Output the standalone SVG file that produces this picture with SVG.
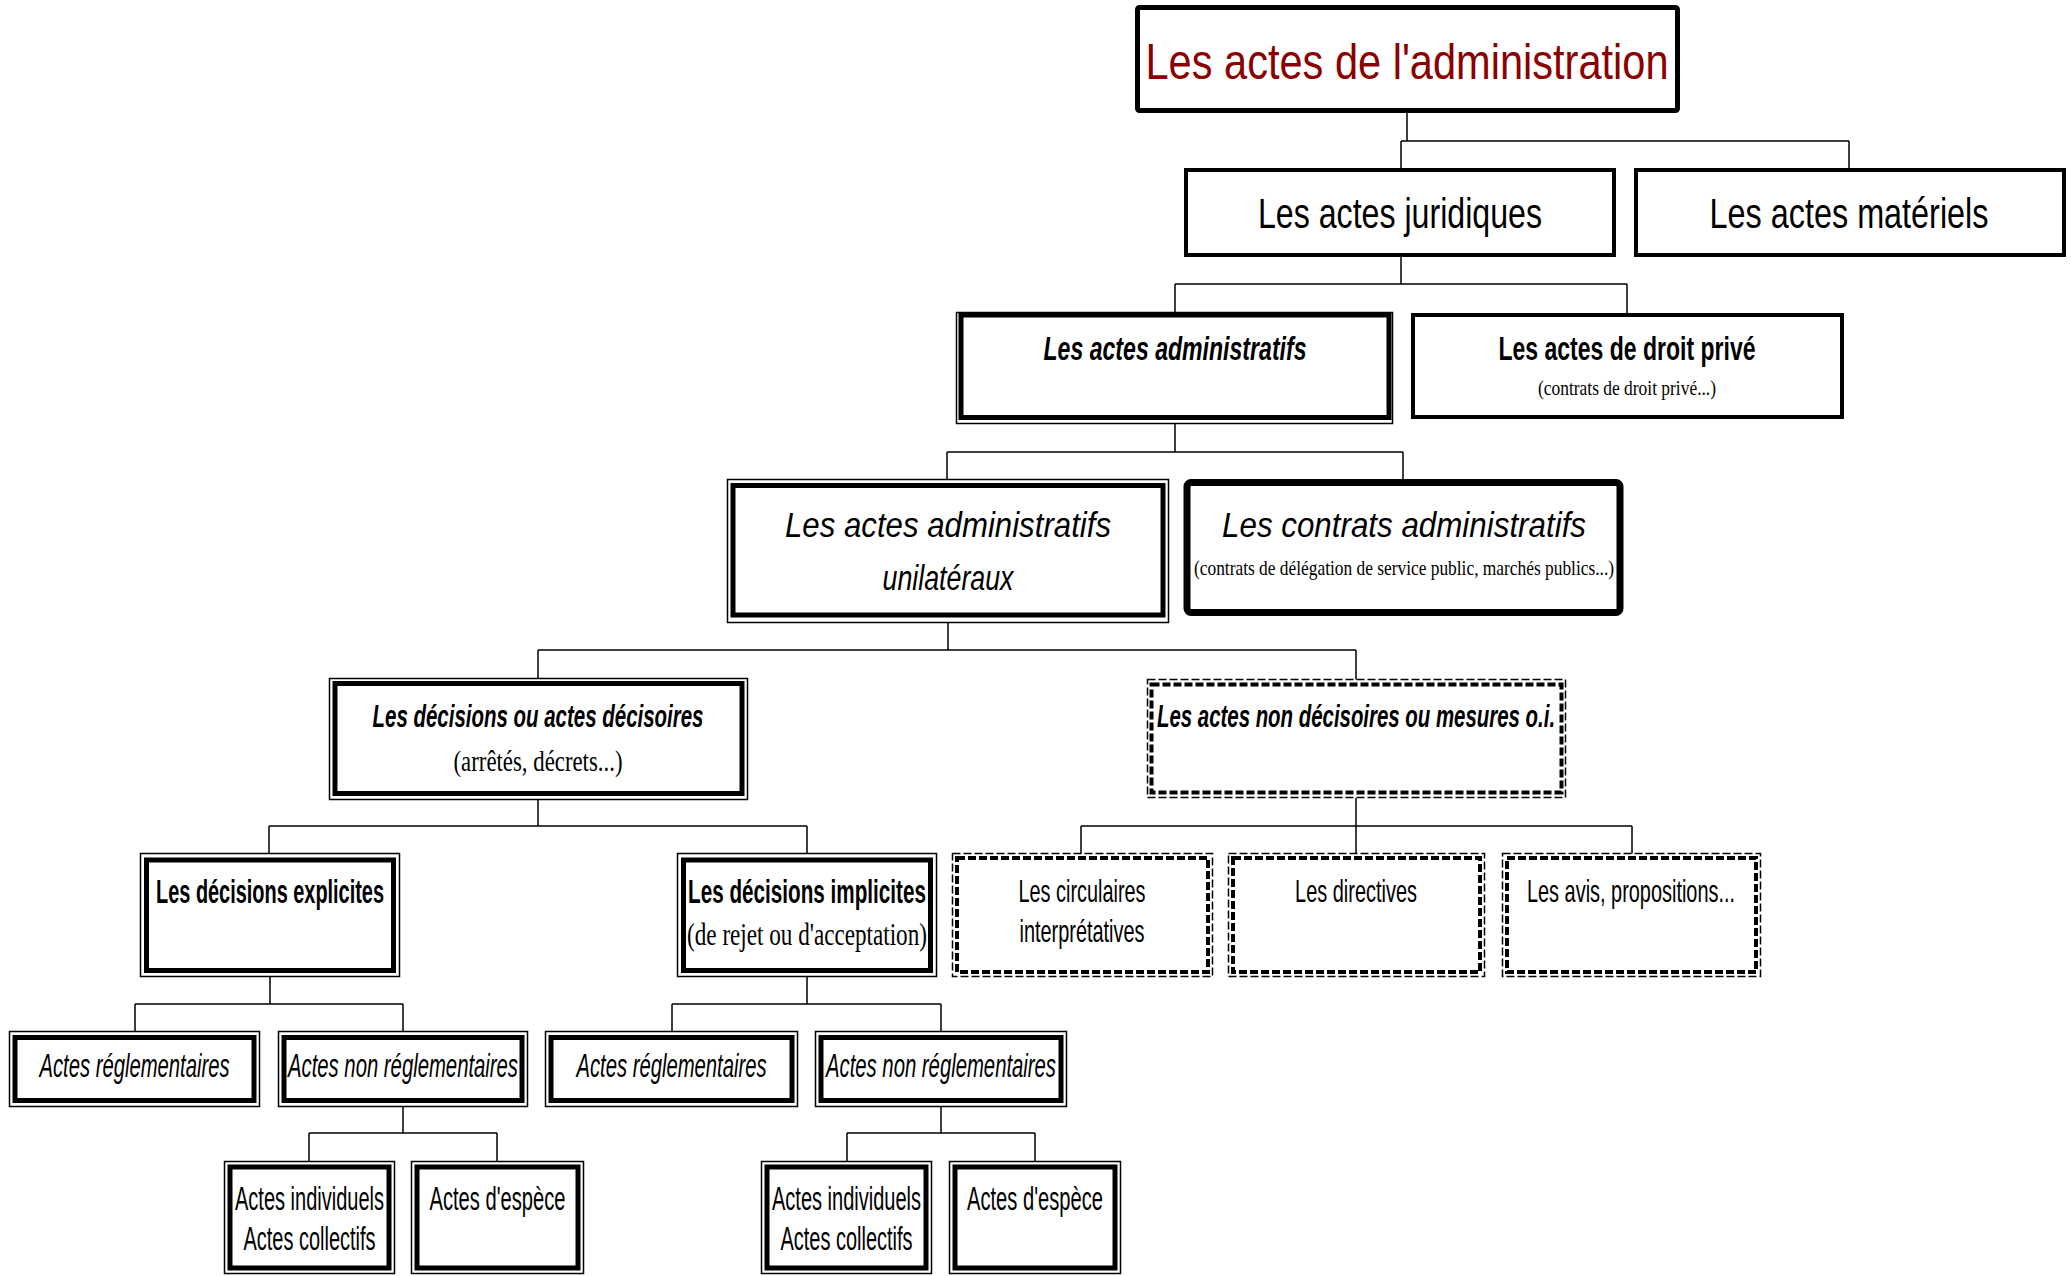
<svg xmlns="http://www.w3.org/2000/svg" width="2071" height="1276" viewBox="0 0 2071 1276">
<style>
.bg{fill:#fff}
.conn{fill:none;stroke:#000;stroke-width:1.5}
.b5{fill:#fff;stroke:#000;stroke-width:5}
.b4{fill:#fff;stroke:#000;stroke-width:4}
.b7{fill:#fff;stroke:#000;stroke-width:7}
.outer{fill:#fff;stroke:#000;stroke-width:1.5}
.inner{fill:none;stroke:#000;stroke-width:5}
.douter{fill:#fff;stroke:#000;stroke-width:1.5;stroke-dasharray:8 3}
.dinner{fill:none;stroke:#000;stroke-width:4;stroke-dasharray:8 3}
text{font-family:"Liberation Sans",Arial,sans-serif;fill:#000;text-anchor:middle}
.serif{font-family:"Liberation Serif","Times New Roman",serif}
.bi{font-weight:bold;font-style:italic}
.b{font-weight:bold}
.i{font-style:italic}
.red{fill:#8b0000}
</style>
<rect class="bg" x="0" y="0" width="2071" height="1276"/>
<g id="connectors">
<path class="conn" d="M1407,110 V141 M1401,141 H1849 M1401,141 V170 M1849,141 V170"/>
<path class="conn" d="M1401,255 V284 M1175,284 H1627 M1175,284 V315 M1627,284 V315"/>
<path class="conn" d="M1175,424 V452 M947,452 H1403 M947,452 V480 M1403,452 V483"/>
<path class="conn" d="M948,622 V650 M538,650 H1356 M538,650 V679 M1356,650 V680"/>
<path class="conn" d="M538,800 V826 M269,826 H807 M269,826 V854 M807,826 V854"/>
<path class="conn" d="M1356,798 V826 M1081,826 H1632 M1081,826 V854 M1356,826 V854 M1632,826 V854"/>
<path class="conn" d="M270,977 V1004 M135,1004 H403 M135,1004 V1032 M403,1004 V1032"/>
<path class="conn" d="M807,977 V1004 M672,1004 H941 M672,1004 V1032 M941,1004 V1032"/>
<path class="conn" d="M403,1107 V1133 M309,1133 H497 M309,1133 V1162 M497,1133 V1162"/>
<path class="conn" d="M941,1107 V1133 M847,1133 H1035 M847,1133 V1162 M1035,1133 V1162"/>
</g>
<g id="n-administration">
<rect class="b5" x="1137.5" y="7.5" width="540" height="103" rx="2"/>
<text class="red" transform="translate(1407,79) scale(0.8315,1)" font-size="50" textLength="629" lengthAdjust="spacingAndGlyphs">Les actes de l'administration</text>
</g>
<g id="n-juridiques">
<rect class="b4" x="1186" y="170" width="428" height="85"/>
<text transform="translate(1400,228) scale(0.7655,1)" font-size="42" textLength="371" lengthAdjust="spacingAndGlyphs">Les actes juridiques</text>
</g>
<g id="n-materiels">
<rect class="b4" x="1636" y="170" width="428" height="85"/>
<text transform="translate(1849,228) scale(0.7707,1)" font-size="42" textLength="362" lengthAdjust="spacingAndGlyphs">Les actes matériels</text>
</g>
<g id="n-administratifs">
<rect class="outer" x="956.5" y="312.5" width="436" height="111"/>
<rect class="inner" x="961" y="315" width="428" height="102.5"/>
<text class="bi" transform="translate(1175,360) scale(0.6995,1)" font-size="33" textLength="376" lengthAdjust="spacingAndGlyphs">Les actes administratifs</text>
</g>
<g id="n-droit-prive">
<rect class="b4" x="1413" y="315" width="429" height="102"/>
<text class="b" transform="translate(1627,360) scale(0.6965,1)" font-size="33" textLength="369" lengthAdjust="spacingAndGlyphs">Les actes de droit privé</text>
<text class="serif" transform="translate(1627,395) scale(0.828,1)" font-size="21" textLength="215" lengthAdjust="spacingAndGlyphs">(contrats de droit privé...)</text>
</g>
<g id="n-unilateraux">
<rect class="outer" x="727.5" y="479.5" width="441" height="143"/>
<rect class="inner" x="733" y="485.5" width="430" height="129.5"/>
<text class="i" transform="translate(948,537) scale(0.8907,1)" font-size="35" textLength="366" lengthAdjust="spacingAndGlyphs">Les actes administratifs</text>
<text class="i" transform="translate(948,590) scale(0.766,1)" font-size="35" textLength="171" lengthAdjust="spacingAndGlyphs">unilatéraux</text>
</g>
<g id="n-contrats">
<rect class="b7" x="1187" y="482.5" width="433" height="130" rx="4"/>
<text class="i" transform="translate(1404,537) scale(0.8943,1)" font-size="35" textLength="407" lengthAdjust="spacingAndGlyphs">Les contrats administratifs</text>
<text class="serif" transform="translate(1404,575) scale(0.7895,1)" font-size="22" textLength="532" lengthAdjust="spacingAndGlyphs">(contrats de délégation de service public, marchés publics...)</text>
</g>
<g id="n-decisions">
<rect class="outer" x="329.5" y="678.5" width="418" height="121"/>
<rect class="inner" x="335" y="683.5" width="407" height="110"/>
<text class="bi" transform="translate(538,727) scale(0.639,1)" font-size="32" textLength="518" lengthAdjust="spacingAndGlyphs">Les décisions ou actes décisoires</text>
<text class="serif" transform="translate(538,771) scale(0.761,1)" font-size="30" textLength="222" lengthAdjust="spacingAndGlyphs">(arrêtés, décrets...)</text>
</g>
<g id="n-non-decisoires">
<rect class="douter" x="1147.5" y="679.5" width="418" height="118"/>
<rect class="dinner" x="1151.5" y="684.5" width="410" height="108"/>
<text class="bi" transform="translate(1356,727) scale(0.638,1)" font-size="32" textLength="624" lengthAdjust="spacingAndGlyphs">Les actes non décisoires ou mesures o.i.</text>
</g>
<g id="n-explicites">
<rect class="outer" x="140.5" y="853.5" width="259" height="123"/>
<rect class="inner" x="146.5" y="860" width="247" height="110.5"/>
<text class="b" transform="translate(270,903) scale(0.603,1)" font-size="33" textLength="378" lengthAdjust="spacingAndGlyphs">Les décisions explicites</text>
</g>
<g id="n-implicites">
<rect class="outer" x="677.5" y="853.5" width="259" height="123"/>
<rect class="inner" x="683.5" y="860" width="247" height="110.5"/>
<text class="b" transform="translate(807,903) scale(0.626,1)" font-size="33" textLength="380" lengthAdjust="spacingAndGlyphs">Les décisions implicites</text>
<text class="serif" transform="translate(807,945) scale(0.745,1)" font-size="31" textLength="322" lengthAdjust="spacingAndGlyphs">(de rejet ou d'acceptation)</text>
</g>
<g id="n-circulaires">
<rect class="douter" x="952.5" y="853.5" width="260" height="123"/>
<rect class="dinner" x="957" y="858" width="251" height="114"/>
<text transform="translate(1082,902) scale(0.6225,1)" font-size="32" textLength="204" lengthAdjust="spacingAndGlyphs">Les circulaires</text>
<text transform="translate(1082,942) scale(0.622,1)" font-size="32" textLength="201" lengthAdjust="spacingAndGlyphs">interprétatives</text>
</g>
<g id="n-directives">
<rect class="douter" x="1228.5" y="853.5" width="256" height="123"/>
<rect class="dinner" x="1233" y="858" width="247" height="114"/>
<text transform="translate(1356,902) scale(0.622,1)" font-size="32" textLength="196" lengthAdjust="spacingAndGlyphs">Les directives</text>
</g>
<g id="n-avis">
<rect class="douter" x="1502.5" y="853.5" width="258" height="123"/>
<rect class="dinner" x="1507" y="858" width="249" height="114"/>
<text transform="translate(1631,902) scale(0.623,1)" font-size="32" textLength="334" lengthAdjust="spacingAndGlyphs">Les avis, propositions...</text>
</g>
<g id="n-reg-expl">
<rect class="outer" x="9.5" y="1031.5" width="250" height="75"/>
<rect class="inner" x="15" y="1037.5" width="239" height="63"/>
<text class="i" transform="translate(134.5,1077) scale(0.615,1)" font-size="33" textLength="309" lengthAdjust="spacingAndGlyphs">Actes réglementaires</text>
</g>
<g id="n-nonreg-expl">
<rect class="outer" x="278.5" y="1031.5" width="249" height="75"/>
<rect class="inner" x="284" y="1037.5" width="238" height="63"/>
<text class="i" transform="translate(403,1077) scale(0.615,1)" font-size="33" textLength="374" lengthAdjust="spacingAndGlyphs">Actes non réglementaires</text>
</g>
<g id="n-reg-impl">
<rect class="outer" x="545.5" y="1031.5" width="252" height="75"/>
<rect class="inner" x="551" y="1037.5" width="241" height="63"/>
<text class="i" transform="translate(671.5,1077) scale(0.615,1)" font-size="33" textLength="309" lengthAdjust="spacingAndGlyphs">Actes réglementaires</text>
</g>
<g id="n-nonreg-impl">
<rect class="outer" x="815.5" y="1031.5" width="251" height="75"/>
<rect class="inner" x="821" y="1037.5" width="240" height="63"/>
<text class="i" transform="translate(941,1077) scale(0.615,1)" font-size="33" textLength="374" lengthAdjust="spacingAndGlyphs">Actes non réglementaires</text>
</g>
<g id="n-indiv-expl">
<rect class="outer" x="224.5" y="1161.5" width="170" height="112"/>
<rect class="inner" x="230" y="1167" width="159" height="101"/>
<text transform="translate(309.5,1210) scale(0.606,1)" font-size="33" textLength="246" lengthAdjust="spacingAndGlyphs">Actes individuels</text>
<text transform="translate(309.5,1250) scale(0.6055,1)" font-size="33" textLength="218" lengthAdjust="spacingAndGlyphs">Actes collectifs</text>
</g>
<g id="n-espece-expl">
<rect class="outer" x="411.5" y="1161.5" width="172" height="112"/>
<rect class="inner" x="417" y="1167" width="161" height="101"/>
<text transform="translate(497.5,1210) scale(0.61,1)" font-size="33" textLength="223" lengthAdjust="spacingAndGlyphs">Actes d'espèce</text>
</g>
<g id="n-indiv-impl">
<rect class="outer" x="761.5" y="1161.5" width="170" height="112"/>
<rect class="inner" x="767" y="1167" width="159" height="101"/>
<text transform="translate(846.5,1210) scale(0.606,1)" font-size="33" textLength="246" lengthAdjust="spacingAndGlyphs">Actes individuels</text>
<text transform="translate(846.5,1250) scale(0.6055,1)" font-size="33" textLength="218" lengthAdjust="spacingAndGlyphs">Actes collectifs</text>
</g>
<g id="n-espece-impl">
<rect class="outer" x="949.5" y="1161.5" width="171" height="112"/>
<rect class="inner" x="955" y="1167" width="160" height="101"/>
<text transform="translate(1035,1210) scale(0.61,1)" font-size="33" textLength="223" lengthAdjust="spacingAndGlyphs">Actes d'espèce</text>
</g>
</svg>
